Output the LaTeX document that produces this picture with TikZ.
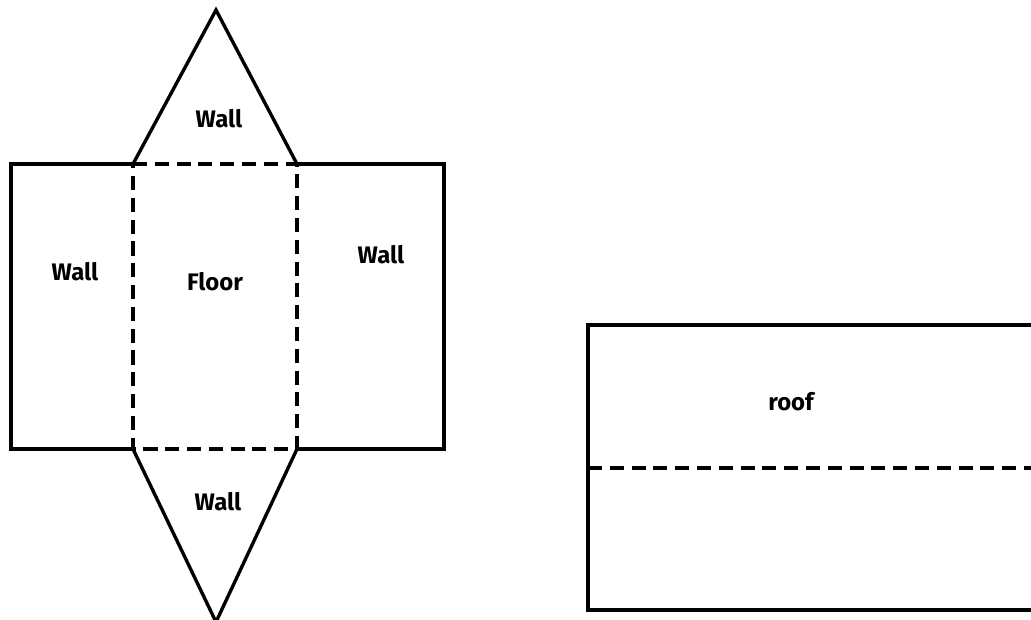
\documentclass[tikz,border=0pt]{standalone}
\usepackage{fontspec}
\setmainfont{Fira Sans}
\usetikzlibrary{calc}

\begin{document}
\begin{tikzpicture}[x=0.025cm,y=-0.025cm,
  line width=2.4pt, line join=miter,
  fold/.style={line width=2.9pt, dash pattern=on 10pt off 5.5pt},
  lbl/.style={font=\fontsize{17}{20}\selectfont\bfseries}]
\useasboundingbox (0,0) rectangle (1031,619);
\clip (0,0) rectangle (1031,619);

\coordinate (TA) at (216,10);
\coordinate (FTL) at (133,164);
\coordinate (FTR) at (297,164);
\coordinate (FBL) at (133,449);
\coordinate (FBR) at (297,449);
\coordinate (BA) at (216,622);
\coordinate (LTL) at (11,164);
\coordinate (LBL) at (11,449);
\coordinate (RTR) at (444,164);
\coordinate (RBR) at (444,449);

\coordinate (RfTL) at (588,325);
\coordinate (RfBL) at (588,610);
\coordinate (RfTR) at (1040,325);
\coordinate (RfBR) at (1040,610);
\coordinate (RfML) at (588,468);
\coordinate (RfMR) at (1040,468);

% walls
\draw (FTL) -- (TA) -- (FTR);
\draw (FBL) -- (BA) -- (FBR);
\draw (FTL) -- (LTL) -- (LBL) -- (FBL);
\draw (FTR) -- (RTR) -- (RBR) -- (FBR);
% floor
\draw[fold] (FTL) -- (FTR) -- (FBR) -- (FBL) -- cycle;

% roof
\draw (RfTR) -- (RfTL) -- (RfBL) -- (RfBR) -- cycle;
\draw[fold] (RfML) -- (RfMR);

\node[lbl] (wallTop) at (219,119) {Wall};
\node[lbl] (wallLeft) at (75,272) {Wall};
\node[lbl] (floor) at (215,282) {Floor};
\node[lbl] (wallRight) at (381,255) {Wall};
\node[lbl] (wallBottom) at (218,502) {Wall};
\node[lbl] (roof) at (791,402) {roof};

\end{tikzpicture}
\end{document}
